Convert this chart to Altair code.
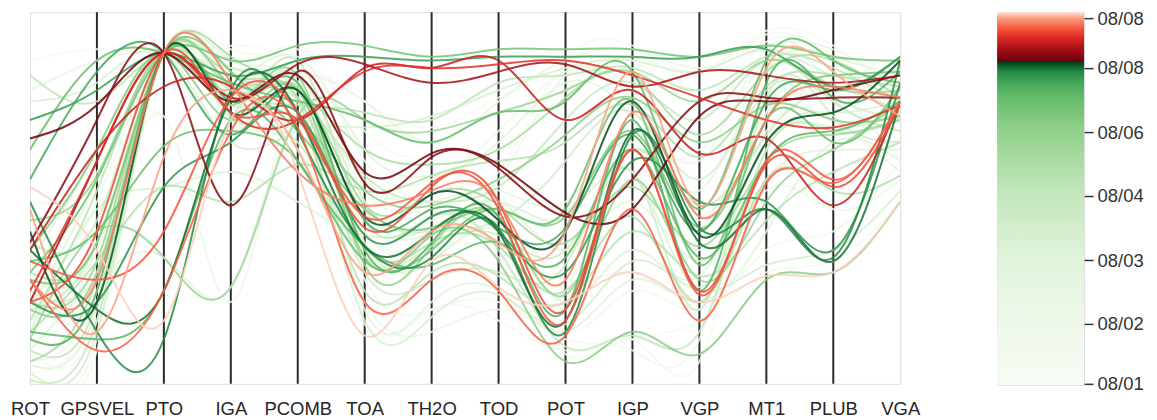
import altair as alt
import pandas as pd

axes = ["ROT", "GPSVEL", "PTO", "IGA", "PCOMB", "TOA", "TH2O", "TOD",
        "POT", "IGP", "VGP", "MT1", "PLUB", "VGA"]

# time position (0 = 08/01 ... 1 = last 08/08) for each line
light_t = [0.05, 0.08, 0.10, 0.12, 0.14, 0.16, 0.18, 0.20, 0.22, 0.25, 0.27, 0.30,
           0.32, 0.34, 0.36, 0.38, 0.40, 0.42, 0.44, 0.46, 0.48, 0.50, 0.52, 0.54,
           0.56, 0.58, 0.60, 0.62, 0.64, 0.66, 0.68, 0.70, 0.72, 0.03, 0.07, 0.11]
light_lines = [
    [14, 36, 89, 87, 90, 68, 60, 63, 79, 87, 76, 92, 87, 73],
    [3, 22, 89, 90, 84, 52, 47, 57, 87, 91, 84, 94, 88, 71],
    [9, 17, 89, 77, 68, 36, 33, 38, 8, 12, 6, 71, 79, 65],
    [22, 49, 89, 81, 76, 28, 20, 22, 12, 9, 12, 73, 76, 68],
    [1, 12, 89, 73, 87, 60, 55, 68, 84, 79, 63, 87, 81, 60],
    [12, 30, 72, 22, 81, 49, 44, 55, 83, 76, 60, 90, 84, 76],
    [6, 25, 89, 84, 79, 41, 40, 45, 28, 30, 25, 52, 47, 55],
    [17, 41, 89, 71, 63, 22, 14, 20, 25, 55, 36, 68, 71, 57],
    [79, 87, 89, 85, 84, 76, 65, 76, 87, 90, 85, 91, 90, 79],
    [28, 36, 89, 79, 76, 55, 49, 52, 49, 65, 44, 73, 76, 79],
    [20, 55, 89, 83, 88, 63, 56, 65, 81, 71, 52, 84, 88, 83],
    [9, 28, 34, 26, 71, 47, 41, 49, 36, 49, 33, 55, 63, 63],
    [33, 63, 89, 76, 81, 20, 22, 25, 14, 28, 22, 41, 65, 60],
    [5, 20, 89, 87, 80, 38, 33, 41, 22, 36, 29, 65, 69, 73],
    [14, 47, 53, 57, 49, 40, 42, 49, 45, 57, 26, 63, 73, 76],
    [76, 81, 89, 65, 68, 69, 72, 79, 85, 87, 84, 90, 83, 85],
    [25, 33, 89, 75, 73, 17, 18, 24, 16, 33, 25, 32, 36, 52],
    [3, 14, 89, 80, 83, 49, 41, 44, 60, 73, 55, 79, 77, 71],
    [20, 38, 89, 85, 76, 30, 28, 30, 32, 57, 20, 77, 72, 65],
    [38, 44, 89, 72, 65, 34, 37, 40, 36, 63, 48, 67, 79, 73],
    [1, 17, 89, 84, 77, 56, 49, 53, 71, 81, 71, 87, 76, 68],
    [9, 22, 89, 76, 87, 44, 45, 36, 10, 13, 14, 63, 68, 71],
    [83, 76, 89, 79, 75, 73, 71, 81, 83, 85, 79, 88, 85, 76],
    [17, 52, 89, 81, 73, 25, 30, 29, 22, 41, 29, 44, 57, 65],
    [14, 33, 53, 49, 59, 52, 56, 60, 65, 75, 61, 80, 83, 80],
    [30, 38, 89, 83, 77, 37, 38, 37, 25, 45, 22, 55, 52, 56],
    [6, 28, 89, 88, 79, 63, 59, 63, 77, 83, 67, 84, 87, 77],
    [22, 33, 89, 77, 80, 48, 51, 48, 38, 53, 37, 60, 67, 71],
    [12, 41, 34, 26, 72, 71, 68, 73, 79, 84, 76, 87, 80, 79],
    [44, 56, 89, 75, 83, 32, 37, 45, 24, 55, 28, 49, 63, 76],
    [20, 30, 89, 80, 71, 52, 48, 55, 67, 77, 65, 75, 71, 72],
    [36, 63, 89, 71, 79, 34, 40, 33, 6, 14, 8, 28, 30, 49],
    [28, 38, 89, 84, 68, 47, 42, 47, 45, 68, 42, 71, 83, 84],
    [87, 90, 89, 91, 87, 76, 69, 77, 84, 88, 84, 95, 91, 79],
    [49, 57, 89, 77, 63, 16, 20, 17, 9, 12, 17, 30, 33, 49],
    [2, 9, 89, 71, 76, 41, 36, 34, 14, 25, 20, 36, 41, 60],
]

green_t = [0.862, 0.85, 0.84, 0.82, 0.81, 0.77, 0.76, 0.83, 0.79, 0.74, 0.78]
green_lines = [
    [41, 22, 89, 73, 79, 45, 51, 44, 41, 76, 40, 65, 73, 87],
    [36, 20, 25, 77, 73, 37, 41, 41, 17, 68, 38, 47, 33, 76],
    [49, 14, 12, 79, 68, 37, 34, 42, 14, 67, 42, 47, 34, 87],
    [71, 79, 89, 83, 87, 88, 87, 88, 88, 88, 88, 90, 80, 88],
    [55, 84, 89, 67, 79, 44, 47, 42, 42, 67, 41, 76, 79, 88],
    [63, 87, 89, 81, 76, 71, 65, 73, 76, 84, 47, 87, 87, 81],
    [33, 41, 64, 68, 60, 33, 36, 47, 47, 76, 32, 71, 65, 80],
    [22, 22, 53, 65, 73, 40, 45, 41, 30, 60, 49, 49, 36, 81],
    [12, 25, 89, 76, 81, 36, 38, 45, 20, 71, 25, 81, 77, 84],
    [30, 55, 89, 87, 91, 91, 88, 90, 90, 90, 88, 91, 88, 87],
    [14, 12, 25, 71, 60, 37, 32, 38, 34, 63, 34, 60, 68, 76],
]

red_t = [0.87, 0.885, 0.90, 0.92, 0.935, 0.955, 0.96, 0.97, 0.985, 0.995, 0.95]
red_lines = [
    [66, 75, 89, 76, 83, 57, 62, 59, 46, 47, 72, 76, 79, 83],
    [38, 71, 89, 48, 84, 54, 61, 58, 45, 55, 76, 77, 77, 77],
    [22, 60, 89, 77, 86, 86, 81, 84, 86, 80, 84, 83, 81, 83],
    [36, 63, 80, 80, 71, 85, 85, 87, 71, 79, 62, 66, 48, 76],
    [25, 60, 89, 73, 71, 84, 85, 86, 87, 83, 77, 71, 69, 75],
    [33, 28, 41, 77, 73, 45, 54, 47, 17, 63, 24, 60, 55, 76],
    [28, 9, 25, 68, 69, 22, 28, 25, 13, 47, 17, 54, 54, 76],
    [28, 28, 89, 81, 57, 48, 52, 49, 28, 73, 45, 71, 80, 77],
    [47, 14, 61, 79, 63, 30, 41, 38, 41, 84, 48, 85, 84, 72],
    [53, 36, 17, 71, 57, 13, 33, 26, 22, 30, 22, 29, 30, 49],
    [22, 41, 89, 73, 71, 42, 53, 49, 20, 63, 25, 59, 53, 75],
]

# colour stops of the time scale (position, colour)
stop_pos = [0.0, 0.165, 0.34, 0.51, 0.6, 0.69, 0.77, 0.81, 0.84, 0.865,
            0.8651, 0.9, 0.93, 0.957, 0.984, 1.0]
stop_col = ["#f7fcf5", "#eef8ea", "#e0f3db", "#c4e7bd", "#acdca5", "#8ecf89",
            "#66bd6c", "#45a85a", "#238b45", "#00441b",
            "#67000d", "#a50f15", "#d92723", "#f6583e", "#fc9e80", "#fee5d9"]

tick_pos = [0.0, 0.165, 0.338, 0.514, 0.689, 0.865, 1.0]
tick_lab = ["08/01", "08/02", "08/03", "08/04", "08/06", "08/08", "08/08"]

rows = []
all_t = light_t + green_t + red_t
all_lines = light_lines + green_lines + red_lines
order = sorted(range(len(all_t)), key=lambda i: all_t[i])
for rank, i in enumerate(order):
    for k, v in enumerate(all_lines[i]):
        rows.append({"id": rank, "t": all_t[i], "axis": axes[k], "idx": k, "value": v})
df = pd.DataFrame(rows)

xscale = alt.Scale(type="point", domain=axes, padding=0)
xaxis = alt.Axis(title=None, labelAngle=0, ticks=False, domain=False, grid=False,
                 labelFontSize=18.5, labelPadding=16, labelColor="#262626",
                 labelFont="Liberation Sans")

rules = alt.Chart(pd.DataFrame({"axis": axes[1:-1]})).mark_rule(
    color="#2b2b2b", strokeWidth=2
).encode(x=alt.X("axis:N", scale=xscale, axis=xaxis))

lines = alt.Chart(df).mark_line(
    interpolate="natural", strokeWidth=2, opacity=0.85, clip=True
).encode(
    x=alt.X("axis:N", scale=xscale, axis=xaxis),
    y=alt.Y("value:Q", scale=alt.Scale(domain=[0, 100], nice=False, zero=False), axis=None),
    color=alt.Color("t:Q", scale=alt.Scale(domain=stop_pos, range=stop_col, interpolate="rgb"),
                    legend=None),
    detail="id:N",
    order="idx:Q",
)

main = alt.layer(rules, lines).properties(width=871, height=372)

label_expr = ""
for p, lab in zip(tick_pos[:-1], tick_lab[:-1]):
    label_expr += f"datum.value < {p + 0.05} ? '{lab}' : "
label_expr += f"'{tick_lab[-1]}'"

grad = alt.LinearGradient(
    gradient="linear", x1=0, x2=0, y1=1, y2=0,
    stops=[alt.GradientStop(offset=p, color=c) for p, c in zip(stop_pos, stop_col)],
)
bar_rect = alt.Chart(pd.DataFrame({"a": [0]})).mark_rect(color=grad).encode(
    x=alt.value(0), x2=alt.value(87), y=alt.value(0), y2=alt.value(373)
)
bar_axis = alt.Chart(pd.DataFrame({"p": tick_pos, "lab": tick_lab})).mark_point(opacity=0).encode(
    y=alt.Y("p:Q", scale=alt.Scale(domain=[-0.003, 1.017], nice=False, zero=False),
            axis=alt.Axis(orient="right", values=tick_pos, labelExpr=label_expr, title=None,
                          tickSize=9, tickWidth=1.5, tickColor="#333", domain=False, grid=False,
                          labelFontSize=18.5, labelPadding=4, labelColor="#333",
                          labelFont="Liberation Sans"))
)
colorbar = alt.layer(bar_rect, bar_axis).properties(width=87, height=373)

chart = alt.hconcat(main, colorbar, spacing=97, bounds="flush").properties(
    padding={"left": 1, "top": 0, "right": 5, "bottom": 5}
).configure_view(stroke="#d0d0d0", strokeWidth=2).configure(background="white")

chart.save("out.html", embed_options={"renderer": "svg", "actions": False})
